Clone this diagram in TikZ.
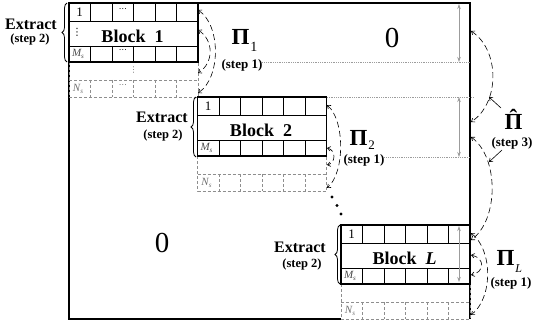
\documentclass[tikz,border=0pt]{standalone}
\usepackage{fontspec}
\setmainfont{Liberation Serif}
\newfontfamily\dotsfont{DejaVu Sans}
\usetikzlibrary{arrows.meta,decorations.pathreplacing}

\definecolor{ghostgray}{HTML}{8E8E8E}
\definecolor{guidegray}{HTML}{9C9C9C}
\definecolor{msgray}{HTML}{4A4A4A}
\definecolor{nsgray}{HTML}{707070}

\newcommand\setfs[1]{\fontsize{#1}{#1}\selectfont}

\tikzset{
  txt/.style={inner sep=0pt, outer sep=0pt},
  frame/.style={black, line width=1.1pt},
  blockline/.style={black, line width=1.3pt},
  gridline/.style={black, line width=0.9pt},
  ghost/.style={ghostgray, line width=0.6pt, dash pattern=on 3pt off 2pt},
  guide/.style={guidegray, line width=0.5pt, dash pattern=on 1pt off 0.8pt},
  gauge/.style={guidegray, line width=0.8pt, {Stealth[length=5pt,width=3.5pt]}-{Stealth[length=5pt,width=3.5pt]}},
  swap/.style={black, line width=0.6pt, dash pattern=on 6pt off 3.5pt,
    {Straight Barb[length=3pt,width=4.5pt]}-{Straight Barb[length=3pt,width=4.5pt]}},
  pointer/.style={black, line width=0.6pt, -{Straight Barb[length=3pt,width=4.5pt]}},
  brace/.style={black, line width=0.8pt, decorate, decoration={brace, amplitude=5pt}},
  cellnum/.style={txt, font={\setfs{13}}},
  celldots/.style={txt, font={\dotsfont\setfs{8}}},
  msub/.style={txt, text=msgray, font={\setfs{11}\itshape}},
  nsub/.style={txt, text=nsgray, font={\setfs{11}\itshape}},
  blocklabel/.style={txt, font={\bfseries\setfs{18}}},
  zero/.style={txt, font={\setfs{29}}},
  bigpi/.style={txt, anchor=base west, font={\bfseries\setfs{23}}},
  stepnote/.style={txt, font={\bfseries\setfs{13}}},
  extract/.style={txt, font={\bfseries\setfs{16}}},
  extractstep/.style={txt, font={\bfseries\setfs{12.5}}},
}

% one block of M_s rows with its N_s-row shadow underneath
\newcommand\drawblock[4]{%
  \begin{scope}[shift={(#1,#2)}]
    \draw[ghost] (0,59) -- (0,94) -- (129,94) -- (129,59);
    \draw[ghost] (0,77) -- (129,77);
    \foreach \k in {1,...,5} {\draw[ghost] (21.5*\k,77) -- (21.5*\k,94);}
    \foreach \k in {1,...,5} {%
      \draw[gridline] (21.5*\k,0) -- (21.5*\k,18);
      \draw[gridline] (21.5*\k,43) -- (21.5*\k,59);}
    \draw[gridline] (0,18) -- (129,18) (0,43) -- (129,43);
    \draw[blockline] (0,0) rectangle (129,59);
    \node[cellnum] (#4one) at (10.5,9.5) {1};
    \node[msub] (#4ms) at (9,51) {M\raisebox{-2pt}{\setfs{7}s}};
    \node[nsub] (#4ns) at (9,86) {N\raisebox{-2pt}{\setfs{7}s}};
    \node[blocklabel] (#4label) at (63.5,33) {#3};
  \end{scope}}

\begin{document}
\begin{tikzpicture}[x=1pt,y=-1pt]
\useasboundingbox (0,0) rectangle (535,326);

% outline of the whole matrix
\draw[frame] (341,319) -- (69,319) -- (69,3) -- (470,3) -- (470,319);

% the three diagonal blocks
\drawblock{69}{3}{Block\hspace{0.5em}1}{ba}
\drawblock{197.5}{97}{Block\hspace{0.5em}2}{bb}
\drawblock{341}{225}{Block\hspace{0.5em}\textit{L}}{bl}

% extra ellipses inside block 1
\node[celldots] (badotsa) at (122.75,10.5) {⋯};
\node[celldots] (badotsb) at (122.75,51.5) {⋯};
\node[celldots, text=nsgray] (badotsc) at (122.75,86) {⋯};
\node[celldots, font={\dotsfont\setfs{10}}] (bavdots) at (77,32) {⋮};
\node[celldots, text=nsgray] (bavdotsb) at (133.5,70.5) {⋮};

% diagonal dots between block 2 and block L
\fill (332,197) circle[radius=1.6];
\fill (337,205.5) circle[radius=1.6];
\fill (341,214) circle[radius=1.6];

% zero regions
\node[zero] (zeroup) at (392,38) {0};
\node[zero] (zerolow) at (162,243) {0};

% row-height guides
\node[stepnote] (sa) at (242,65) {(step 1)};
\node[stepnote] (sb) at (364,160) {(step 1)};
\node[stepnote] (sl) at (511,283) {(step 1)};
\coordinate (ga1) at (sa.east |- 0,62);
\coordinate (ga2) at (470,62);
\coordinate (gb1) at (327,97);
\coordinate (gb2) at (473,97);
\coordinate (gc1) at (sb.east |- 0,157);
\coordinate (gc2) at (470,157);
\draw[guide] (ga1) -- (ga2);
\draw[guide] (gb1) -- (gb2);
\draw[guide] (gc1) -- (gc2);
\coordinate (ua) at (459,4);
\coordinate (va) at (459,62);
\coordinate (ub) at (459,97);
\coordinate (vb) at (459,157);
\coordinate (uc) at (459,226);
\coordinate (vc) at (459,282);
\draw[gauge] (ua) -- (va);
\draw[gauge] (ub) -- (vb);
\draw[gauge] (uc) -- (vc);

% Extract braces and labels
\draw[brace] (67,62) -- (67,3);
\draw[brace] (196,157) -- (196,97);
\draw[brace] (340,284) -- (340,225);
\node[extract] (exa) at (31,24) {Extract};
\node[extractstep] (exas) at (30,39) {(step 2)};
\node[extract] (exb) at (162,117) {Extract};
\node[extractstep] (exbs) at (163,135) {(step 2)};
\node[extract] (exl) at (300,247) {Extract};
\node[extractstep] (exls) at (302,264) {(step 2)};

% permutation labels
\node[bigpi] (pia) at (231.5,45) {Π\kern1pt\raisebox{-7pt}{\mdseries\setfs{14}1}};
\node[bigpi] (pib) at (349.5,145) {Π\kern1pt\raisebox{-4pt}{\mdseries\setfs{13}2}};
\node[bigpi] (pil) at (496.5,265) {Π\kern1pt\raisebox{-7pt}{\mdseries\itshape\setfs{12}L}};
\node[bigpi] (pihat) at (504.5,130) {\accent"02C6 Π};
\node[stepnote] (shat) at (512,143.5) {(step 3)};

% row swaps of step 1
\coordinate (a1) at (198,10);  \coordinate (a2) at (198,93);
\coordinate (a3) at (198,30);  \coordinate (a4) at (198,73);
\draw[swap] (a1) .. controls (221,25) and (221,78) .. (a2);
\draw[swap] (a3) .. controls (214,40) and (214,63) .. (a4);
\coordinate (b1) at (327,105); \coordinate (b2) at (327,188);
\coordinate (b3) at (327,148); \coordinate (b4) at (327,165);
\draw[swap] (b1) .. controls (345,120) and (345,173) .. (b2);
\draw[swap] (b3) .. controls (336,150) and (336,163) .. (b4);
\coordinate (l1) at (471,233); \coordinate (l2) at (471,315);
\coordinate (l3) at (471,255); \coordinate (l4) at (471,275);
\draw[swap] (l1) .. controls (493,250) and (493,298) .. (l2);
\draw[swap] (l3) .. controls (485,258) and (485,272) .. (l4);

% block swaps of step 3
\coordinate (h1) at (471,31);  \coordinate (h2) at (471,122);
\coordinate (h3) at (471,137); \coordinate (h4) at (471,240);
\draw[swap] (h1) .. controls (500,50) and (500,103) .. (h2);
\draw[swap] (h3) .. controls (499,157) and (499,220) .. (h4);
\coordinate (q1) at (501,108); \coordinate (q2) at (489,97);
\coordinate (q3) at (502,150); \coordinate (q4) at (489,162);
\draw[pointer] (q1) -- (q2);
\draw[pointer] (q3) -- (q4);
\end{tikzpicture}
\end{document}
